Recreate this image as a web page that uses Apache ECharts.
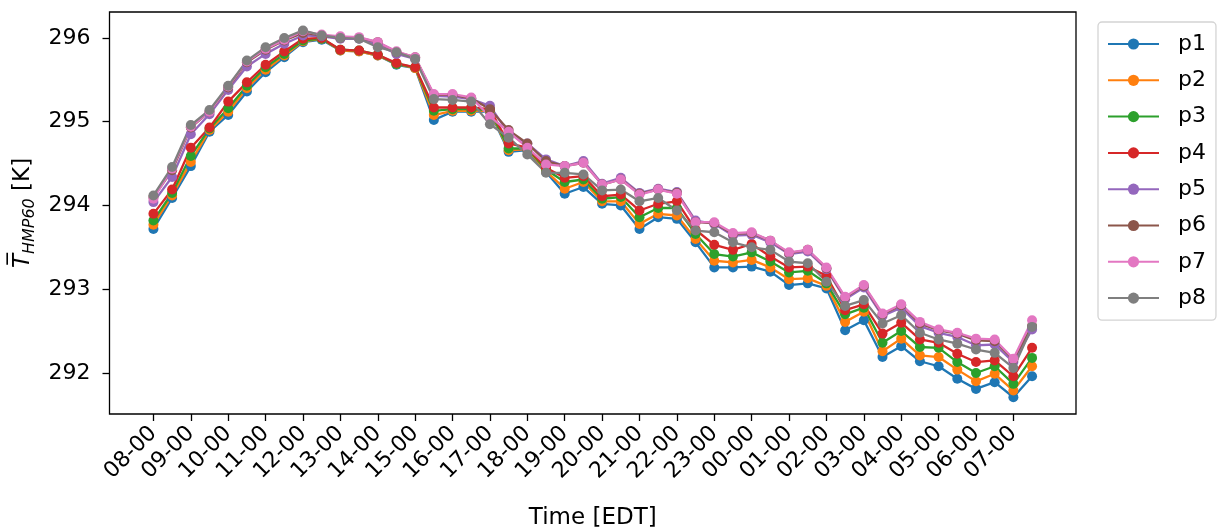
<!DOCTYPE html>
<html>
<head>
<meta charset="utf-8">
<script src="https://cdn.jsdelivr.net/npm/echarts@6/dist/echarts.min.js"></script>
<style>
html,body{margin:0;padding:0;background:#fff;}
#chart{width:1225px;height:531px;}
</style>
</head>
<body>
<div id="chart"></div>
<script>
// Half-hourly times (EDT)
const times = ["08-00","08-30","09-00","09-30","10-00","10-30","11-00","11-30","12-00","12-30",
  "13-00","13-30","14-00","14-30","15-00","15-30","16-00","16-30","17-00","17-30",
  "18-00","18-30","19-00","19-30","20-00","20-30","21-00","21-30","22-00","22-30",
  "23-00","23-30","00-00","00-30","01-00","01-30","02-00","02-30","03-00","03-30",
  "04-00","04-30","05-00","05-30","06-00","06-30","07-00","07-30"];

const p1 = [293.72,294.09,294.47,294.88,295.08,295.36,295.59,295.77,295.95,295.98,
  295.85,295.84,295.79,295.68,295.64,295.02,295.12,295.12,295.12,294.64,
  294.66,294.40,294.14,294.22,294.02,294.00,293.72,293.86,293.84,293.56,
  293.26,293.26,293.27,293.21,293.05,293.07,293.01,292.51,292.63,292.19,
  292.32,292.14,292.08,291.93,291.81,291.89,291.71,291.96];
const p2 = [293.77,294.12,294.52,294.90,295.12,295.40,295.62,295.79,295.96,295.99,
  295.85,295.84,295.79,295.69,295.64,295.08,295.13,295.13,295.13,294.66,
  294.67,294.41,294.20,294.28,294.05,294.05,293.78,293.90,293.88,293.60,
  293.34,293.32,293.35,293.26,293.12,293.13,293.04,292.61,292.73,292.26,
  292.41,292.21,292.19,292.04,291.90,291.99,291.79,292.08];
const p3 = [293.82,294.15,294.59,294.92,295.16,295.43,295.65,295.81,295.97,295.99,
  295.86,295.85,295.80,295.69,295.65,295.13,295.15,295.15,295.14,294.68,
  294.68,294.43,294.28,294.31,294.08,294.10,293.86,293.97,293.97,293.66,
  293.42,293.39,293.44,293.33,293.20,293.22,293.07,292.70,292.78,292.36,
  292.50,292.31,292.30,292.13,292.00,292.08,291.87,292.18];
const p4 = [293.90,294.19,294.69,294.93,295.24,295.47,295.68,295.84,295.99,296.00,
  295.86,295.85,295.80,295.70,295.65,295.17,295.17,295.17,295.15,294.74,
  294.69,294.45,294.33,294.35,294.11,294.13,293.94,294.02,294.05,293.71,
  293.53,293.47,293.54,293.39,293.26,293.27,293.16,292.75,292.82,292.47,
  292.60,292.40,292.36,292.23,292.13,292.15,291.96,292.30];
const p5 = [294.04,294.34,294.85,295.09,295.38,295.66,295.81,295.93,296.03,296.02,
  295.99,295.99,295.92,295.81,295.75,295.31,295.30,295.27,295.19,294.86,
  294.74,294.55,294.47,294.53,294.26,294.33,294.15,294.20,294.16,293.82,
  293.78,293.64,293.65,293.56,293.42,293.45,293.24,292.88,293.02,292.68,
  292.78,292.56,292.48,292.43,292.33,292.34,292.13,292.52];
const p6 = [294.10,294.42,294.93,295.12,295.41,295.71,295.86,295.97,296.06,296.03,
  296.00,296.00,295.95,295.83,295.77,295.32,295.32,295.28,295.15,294.90,
  294.74,294.53,294.47,294.51,294.25,294.31,294.14,294.19,294.15,293.80,
  293.79,293.66,293.67,293.58,293.43,293.47,293.25,292.90,293.04,292.70,
  292.81,292.59,292.51,292.47,292.39,292.38,292.16,292.56];
const p7 = [294.08,294.44,294.94,295.12,295.42,295.72,295.87,295.98,296.08,296.04,
  296.02,296.01,295.95,295.84,295.77,295.33,295.33,295.29,295.06,294.88,
  294.69,294.49,294.47,294.51,294.25,294.31,294.13,294.19,294.14,293.80,
  293.80,293.67,293.68,293.58,293.44,293.47,293.26,292.91,293.05,292.71,
  292.82,292.61,292.52,292.48,292.41,292.40,292.17,292.63];
const p8 = [294.12,294.46,294.96,295.14,295.43,295.73,295.89,296.00,296.09,296.03,
  296.00,295.99,295.89,295.83,295.75,295.27,295.26,295.24,294.97,294.81,
  294.61,294.39,294.39,294.37,294.18,294.19,294.05,294.09,293.94,293.70,
  293.68,293.56,293.50,293.47,293.33,293.31,293.09,292.80,292.87,292.59,
  292.69,292.48,292.40,292.35,292.28,292.24,292.06,292.55];

const seriesNames = ["p1","p2","p3","p4","p5","p6","p7","p8"];
const seriesValues = [p1,p2,p3,p4,p5,p6,p7,p8];
const colors = ["#1f77b4","#ff7f0e","#2ca02c","#d62728","#9467bd","#8c564b","#e377c2","#7f7f7f"];
const yTicks = [292,293,294,295,296];

// tick positions at full hours
const xTickIdx = times.map((t,i)=>t.endsWith("-00") ? i : -1).filter(i=>i>=0);

const FONT = "DejaVu Sans";
const chart = echarts.init(document.getElementById('chart'), null, {renderer:'canvas'});

const series = seriesNames.map((name,si)=>({
  name: name,
  type: 'line',
  data: times.map((t,i)=>[i, seriesValues[si][i]]),
  symbol: 'circle',
  symbolSize: 10,
  showSymbol: true,
  lineStyle: {width: 2.3, color: colors[si]},
  itemStyle: {color: colors[si]},
  emphasis: {disabled: true},
  animation: false
}));

chart.setOption({
  animation: false,
  backgroundColor: '#fff',
  grid: {left: 109.5, top: 12, width: 966.5, height: 402, show: true, borderColor: '#000', borderWidth: 1.3,
    backgroundColor: 'transparent', containLabel: false, outerBoundsMode: 'none'},
  xAxis: {
    type: 'value', min: -2.35, max: 49.35,
    splitLine: {show: false},
    axisLine: {show: false, onZero: false},
    axisTick: {show: true, customValues: xTickIdx, length: 7, inside: false, lineStyle: {color: '#000', width: 1.3}},
    axisLabel: {customValues: xTickIdx, formatter: v => times[Math.round(v)] || '', rotate: 45, margin: 16,
      fontFamily: FONT, fontSize: 22, color: '#000'},
    name: 'Time [EDT]', nameLocation: 'middle', nameGap: 93,
    nameTextStyle: {fontFamily: FONT, fontSize: 23, color: '#000'}
  },
  yAxis: {
    type: 'value', min: 291.51, max: 296.31,
    splitLine: {show: false},
    axisLine: {show: false, onZero: false},
    axisTick: {show: true, customValues: yTicks, length: 7, lineStyle: {color: '#000', width: 1.3}},
    axisLabel: {customValues: yTicks, margin: 19, fontFamily: FONT, fontSize: 22, color: '#000'},
    name: '{t|T\u0305}{s|HMP60}{n| [K]}', nameLocation: 'middle', nameGap: 70, nameRotate: 90,
    nameTextStyle: {
      fontFamily: FONT, fontSize: 23, color: '#000',
      rich: {
        t: {fontFamily: FONT, fontSize: 23, fontStyle: 'italic', color: '#000', lineHeight: 30},
        s: {fontFamily: FONT, fontSize: 16, fontStyle: 'italic', color: '#000', verticalAlign: 'bottom', lineHeight: 14},
        n: {fontFamily: FONT, fontSize: 23, color: '#000', lineHeight: 30}
      }
    }
  },
  legend: {
    orient: 'vertical', left: 1098, top: 22,
    data: seriesNames,
    itemWidth: 51, itemHeight: 14, itemGap: 12.3,
    padding: [10, 10, 10, 9],
    borderColor: '#d4d4d4', borderWidth: 1.3, borderRadius: 4,
    backgroundColor: '#fff',
    textStyle: {fontFamily: FONT, fontSize: 22, color: '#000', lineHeight: 24, padding: [0,0,0,14]},
    selectedMode: false
  },
  series: series
});
</script>
</body>
</html>
